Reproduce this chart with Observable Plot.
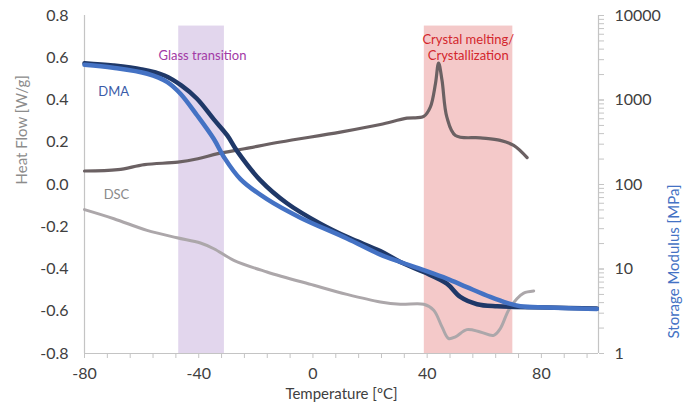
<!DOCTYPE html>
<html><head><meta charset="utf-8">
<script src="https://cdn.jsdelivr.net/npm/d3@7"></script>
<script src="https://cdn.jsdelivr.net/npm/@observablehq/plot@0.6"></script>
<style>body{margin:0;background:#fff}</style>
</head><body><div id="chart"></div>
<script>
// DSC heat flow (W/g), upper (dark) trace
const dscUpperTemp = [-80, -68.3, -59, -47.3, -40.3, -33.3, -24, -11.4, 9.6, 23.6, 32.9, 38.8, 41.1, 42.9, 44.0, 45.2, 46.9, 49.9, 58.6, 65.6, 70.3, 75.0];
const dscUpperHeat = [0.064, 0.070, 0.094, 0.106, 0.122, 0.146, 0.169, 0.201, 0.248, 0.284, 0.314, 0.322, 0.366, 0.477, 0.575, 0.493, 0.319, 0.232, 0.221, 0.209, 0.185, 0.127];
// DSC heat flow (W/g), lower (light) trace
const dscLowerTemp = [-80, -69.7, -58.1, -47.6, -39.4, -34.7, -27.7, -16.1, 0.3, 11.9, 23.6, 30.6, 38.8, 42.3, 45.2, 47.5, 49.9, 53.9, 58.6, 63.3, 65.6, 68.5, 71.5, 73.8, 77.3];
const dscLowerHeat = [-0.119, -0.162, -0.217, -0.252, -0.277, -0.304, -0.359, -0.414, -0.477, -0.520, -0.556, -0.567, -0.567, -0.595, -0.674, -0.729, -0.721, -0.687, -0.698, -0.714, -0.682, -0.595, -0.540, -0.514, -0.504];
// DMA storage modulus (MPa), dark trace
const dmaDarkTemp = [-80, -70, -60, -52, -46, -40.6, -34.7, -30, -26.6, -18.4, -9.1, 2.6, 12.5, 23.6, 30.6, 38.8, 46.9, 51.6, 57.5, 64.5, 70.3, 82, 99.4];
const dmaDarkMod = [2730, 2560, 2300, 1950, 1480, 1035, 590, 381, 250, 112, 60, 34.4, 23.5, 16.3, 12.1, 9.2, 6.7, 4.67, 3.83, 3.62, 3.56, 3.50, 3.40];
// DMA storage modulus (MPa), blue trace
const dmaBlueTemp = [-80, -70, -58, -51, -46.4, -40.6, -34.7, -31.2, -25.4, -16.1, -4.4, 11.9, 23.6, 30.6, 38.8, 46.9, 53.9, 62.1, 67.9, 72.6, 82, 99.4];
const dmaBlueMod = [2610, 2410, 2045, 1630, 1187, 660, 345, 212, 116, 67, 40.5, 23, 14.8, 12.1, 9.7, 7.7, 6.1, 4.67, 3.97, 3.62, 3.50, 3.37];
// shaded regions (°C)
const bandStart = [-47, 39];
const bandEnd = [-31, 70];
// ticks
const xMinorTicks = d3.range(-80, 100, 8);
const xLabelTicks = [-80, -40, 0, 40, 80];
const yLeftTicks = [-0.8, -0.6, -0.4, -0.2, 0, 0.2, 0.4, 0.6, 0.8];
const yRightMajor = [1, 10, 100, 1000, 10000];

const toY = E => -0.8 + 0.4 * Math.log10(E);
const fromY = y => String(Math.round(Math.pow(10, (y + 0.8) / 0.4)));
const yRightMinor = [];
for (let e = 0; e < 4; e++) for (let k = 1; k <= 10; k++) yRightMinor.push(k * Math.pow(10, e));

const rows = (ts, vs, f) => ts.map((t, i) => ({t, v: f ? f(vs[i]) : vs[i]}));
const bands = bandStart.map((s, i) => ({s, e: bandEnd[i], i}));

const chart = Plot.plot({
  width: 694, height: 409,
  marginLeft: 84, marginRight: 96, marginTop: 15, marginBottom: 56,
  x: {domain: [-80, 100]},
  y: {domain: [-0.8, 0.8]},
  style: {fontFamily: "Lato, sans-serif", fontSize: "16px", color: "#404040", background: "white"},
  marks: [
    Plot.rect(bands, {x1: "s", x2: "e", y1: () => -0.8, y2: () => 0.75,
      fill: d => d.i === 0 ? "#e2d6ed" : "#f4c9c9"}),
    Plot.ruleX([-80, 100], {y1: () => -0.8, y2: () => 0.8, stroke: "#c4c4c4", strokeWidth: 1.2}),
    Plot.ruleY([-0.8], {x1: () => -80, x2: () => 100, stroke: "#c4c4c4", strokeWidth: 1.2}),
    Plot.axisX({ticks: xMinorTicks, tickSize: 5, tickFormat: () => "", stroke: "#c4c4c4", label: null}),
    Plot.axisX({ticks: xLabelTicks, tickSize: 0, tickPadding: 14, tickFormat: d => String(d), label: null}),
    Plot.axisY({anchor: "left", ticks: yLeftTicks, tickSize: 0, tickPadding: 16, tickFormat: d => d.toFixed(1), label: null}),
    Plot.axisY({anchor: "right", ticks: yRightMinor.map(toY), tickSize: 5, tickFormat: () => "", stroke: "#c4c4c4", label: null}),
    Plot.axisY({anchor: "right", ticks: yRightMajor.map(toY), tickSize: 0, tickPadding: 16, tickFormat: fromY, label: null}),
    Plot.line(rows(dscLowerTemp, dscLowerHeat), {x: "t", y: "v", stroke: "#aca7aa", strokeWidth: 3, curve: "catmull-rom"}),
    Plot.line(rows(dscUpperTemp, dscUpperHeat), {x: "t", y: "v", stroke: "#6b6163", strokeWidth: 3.2, curve: "catmull-rom"}),
    Plot.line(rows(dmaDarkTemp, dmaDarkMod, toY), {x: "t", y: "v", stroke: "#1f3868", strokeWidth: 4.5, curve: "catmull-rom", strokeLinecap: "round"}),
    Plot.line(rows(dmaBlueTemp, dmaBlueMod, toY), {x: "t", y: "v", stroke: "#4472c4", strokeWidth: 4.5, curve: "catmull-rom", strokeLinecap: "round"}),
    Plot.text(["Glass transition"], {x: () => -38.7, y: () => 0.607, text: d => d, fill: "#a23aa6", fontSize: 13}),
    Plot.text(["Crystal melting/"], {x: () => 54.4, y: () => 0.686, text: d => d, fill: "#d3262c", fontSize: 13}),
    Plot.text(["Crystallization"], {x: () => 54.4, y: () => 0.611, text: d => d, fill: "#d3262c", fontSize: 13}),
    Plot.text(["DMA"], {x: () => -69.8, y: () => 0.437, text: d => d, fill: "#3b5ba8", fontSize: 13}),
    Plot.text(["DSC"], {x: () => -68.8, y: () => -0.047, text: d => d, fill: "#8a8a8a", fontSize: 13}),
    Plot.text(["Heat Flow [W/g]"], {frameAnchor: "left", dx: -62, rotate: -90, text: d => d, fill: "#8c8c8c", fontSize: 15}),
    Plot.text(["Storage Modulus [MPa]"], {frameAnchor: "right", dx: 76, rotate: -90, text: d => d, fill: "#4472c4", fontSize: 15}),
    Plot.text(["Temperature [ºC]"], {frameAnchor: "bottom", dy: 45, text: d => d, fill: "#404040", fontSize: 15})
  ]
});
document.getElementById("chart").appendChild(chart);
</script>
</body></html>
